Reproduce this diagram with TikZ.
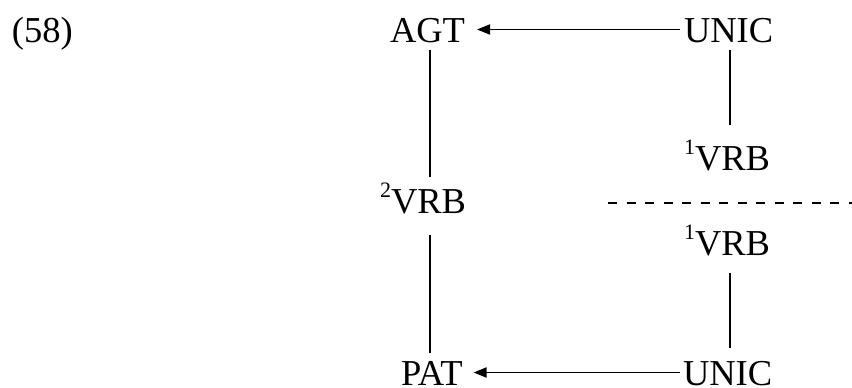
\documentclass[tikz,border=0pt]{standalone}
\usepackage{fontspec}
\setmainfont{Liberation Serif}
\usetikzlibrary{arrows.meta}
\newcommand{\supnum}[1]{\raisebox{16pt}{\fontsize{22}{22}\selectfont #1}}
\begin{document}
\begin{tikzpicture}[x=1pt,y=-1pt,
  lbl/.style={inner sep=0pt,outer sep=0pt,anchor=base west,text height=25pt,text depth=0pt,font=\fontsize{36.5}{40}\selectfont},
  conn/.style={line width=1.7pt},
  arr/.style={line width=1.8pt,-{Triangle[length=13pt,width=10pt]}}]
\useasboundingbox (0,0) rectangle (852,388);
\node[lbl] (num) at (12,42) {(58)};
\node[lbl] (agt) at (390,42) {AGT};
\node[lbl] (unica) at (684,42) {UNIC};
\node[lbl] (vrbone) at (684,170) {\supnum{1}VRB};
\node[lbl] (vrbtwo) at (380,213) {\supnum{2}VRB};
\node[lbl] (vrbthree) at (684,255) {\supnum{1}VRB};
\node[lbl] (pat) at (401,385) {PAT};
\node[lbl] (unicb) at (683,385) {UNIC};
\coordinate (lx) at (430,0);
\coordinate (rx) at (730,0);
\coordinate (dl) at (608,203);
\coordinate (dr) at (852,203);
% arrows
\draw[arr,shorten <=4pt,shorten >=12pt] (unica.west) -- (agt.east);
\draw[arr,shorten <=3pt,shorten >=11pt] (unicb.west) -- (pat.east);
% verticals
\draw[conn,shorten <=8pt,shorten >=11pt] (agt.south -| lx) -- (vrbtwo.north -| lx);
\draw[conn,shorten <=22pt,shorten >=7pt] (vrbtwo.south -| lx) -- (pat.north -| lx);
\draw[conn,shorten <=8pt,shorten >=20pt] (unica.south -| rx) -- (vrbone.north -| rx);
\draw[conn,shorten <=18pt,shorten >=12pt] (vrbthree.south -| rx) -- (unicb.north -| rx);
% dashed separator
\draw[line width=1.6pt,dash pattern=on 9pt off 9.5pt] (dl) -- (dr);
\end{tikzpicture}
\end{document}
